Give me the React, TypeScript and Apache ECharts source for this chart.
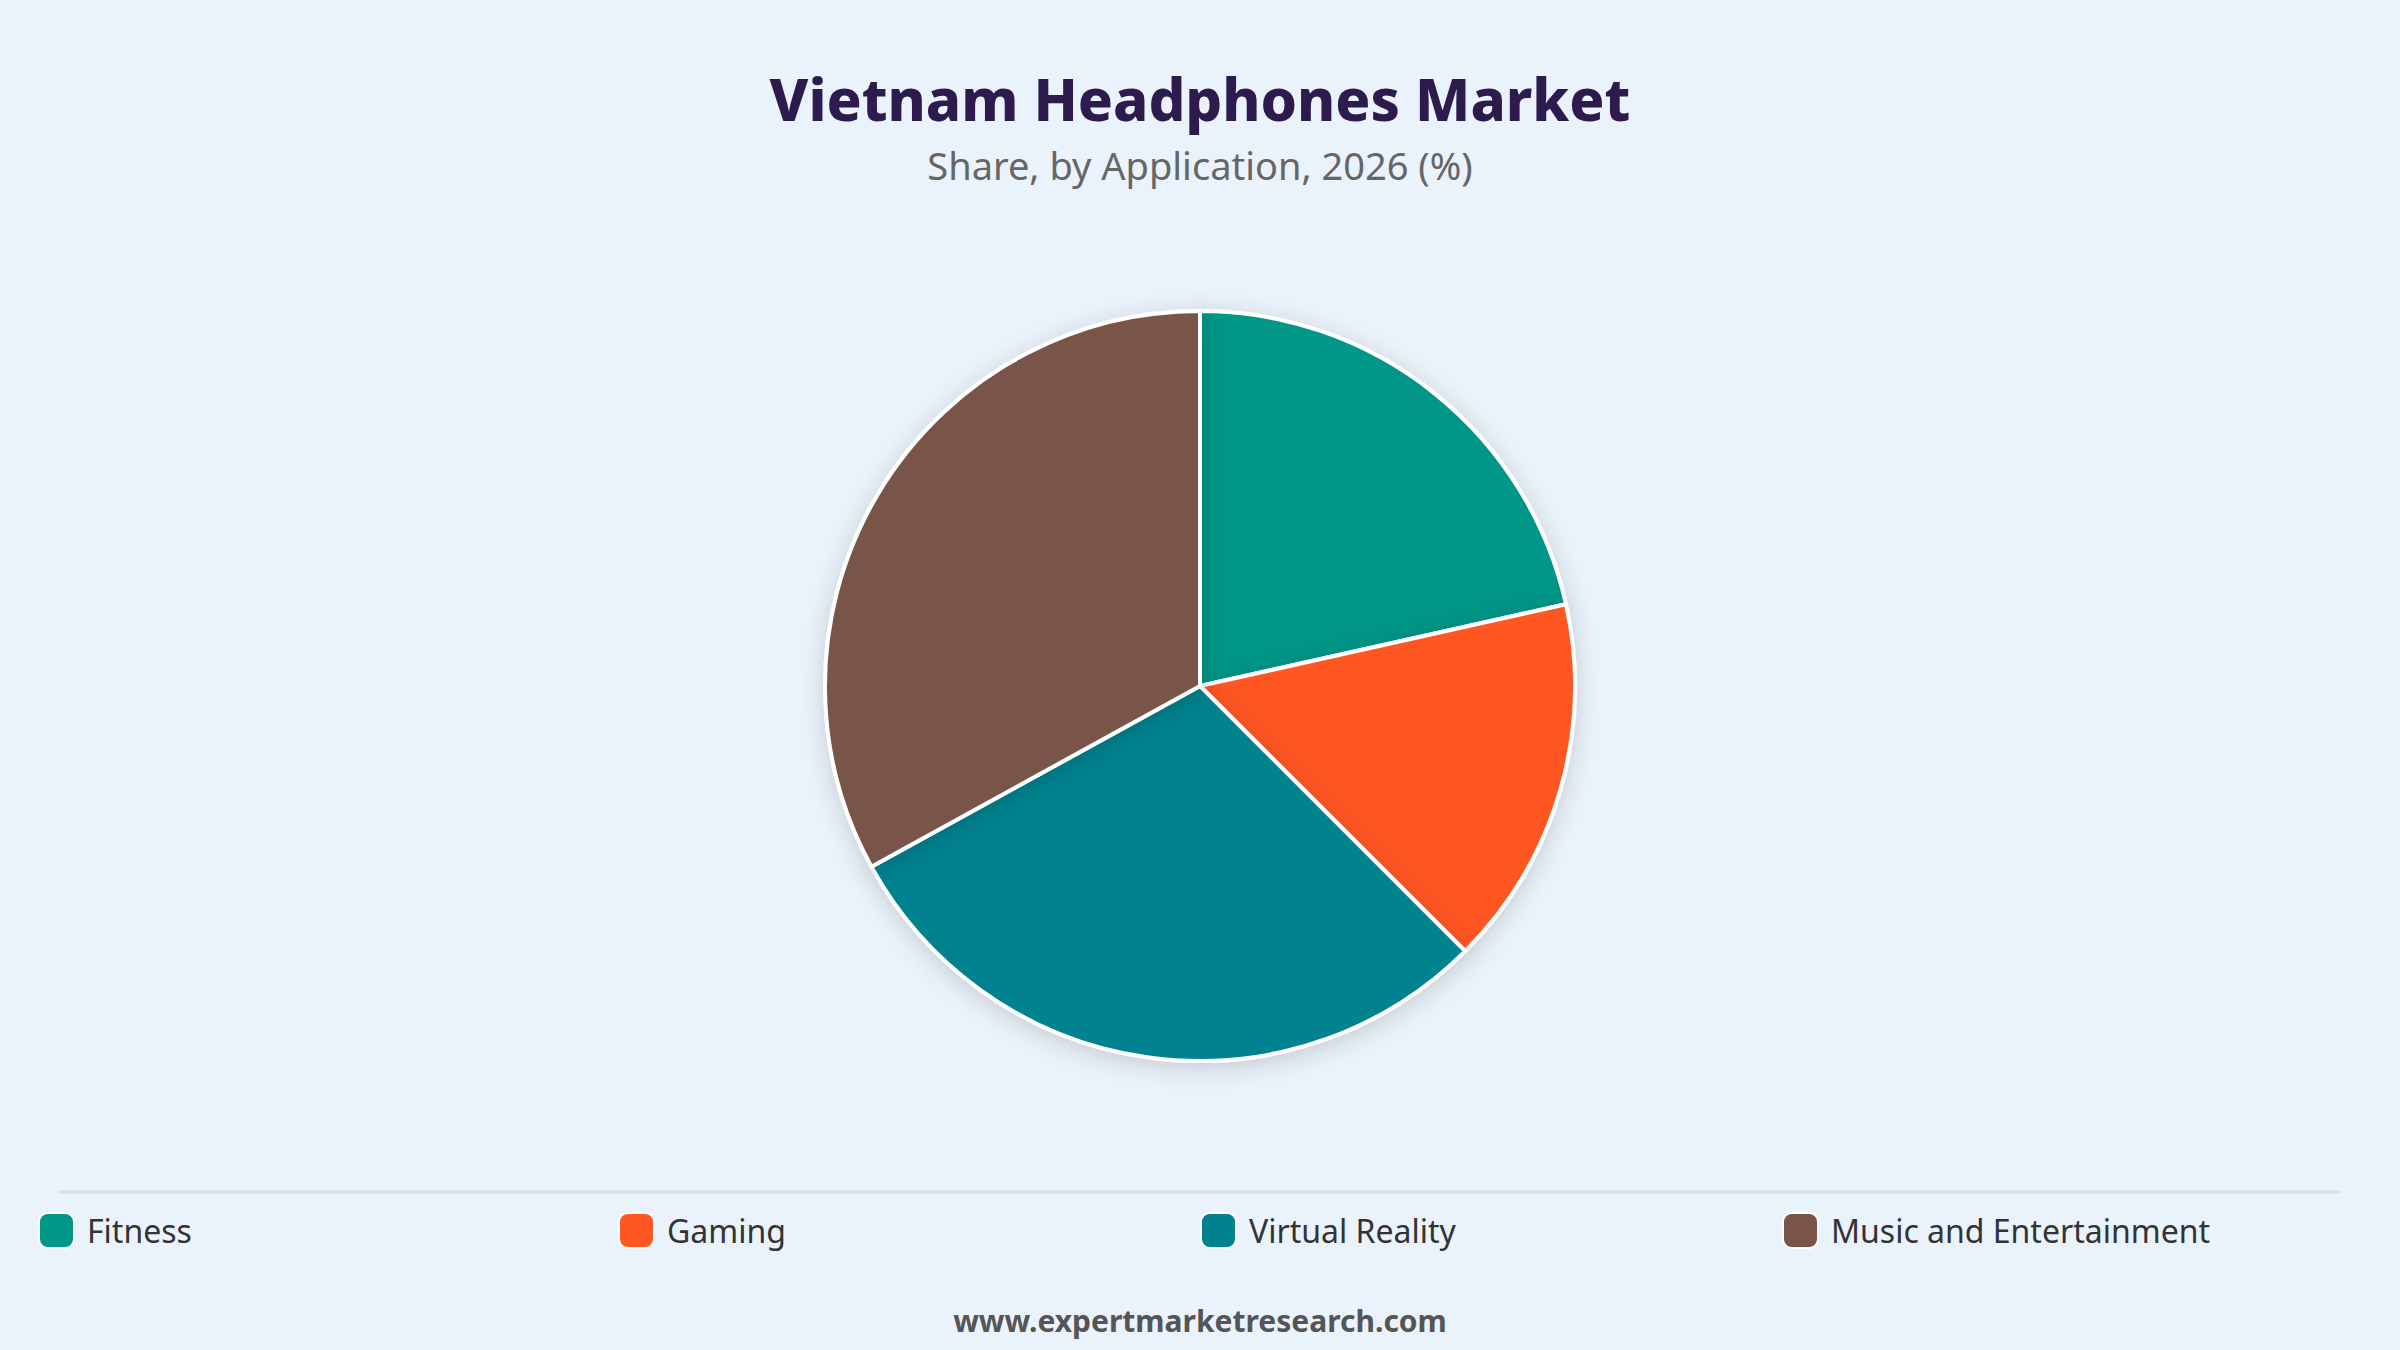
import { useEffect, useRef } from 'react'
import * as echarts from 'echarts'

const CATEGORIES = ['Fitness', 'Gaming', 'Virtual Reality', 'Music and Entertainment']
const SHARES = [21.5, 16, 29.5, 33]
const COLORS = ['#009688', '#ff5722', '#00838f', '#795548']
const LEGEND_LEFT = [33, 613, 1195, 1777]

const FONT = '"Noto Sans", "Open Sans", sans-serif'

export default function App() {
  const elRef = useRef<HTMLDivElement>(null)

  useEffect(() => {
    if (!elRef.current) return
    document.body.style.margin = '0'
    const chart = echarts.init(elRef.current, null, { renderer: 'svg' })

    // one legend per item so the four entries sit in equal columns
    const legends = CATEGORIES.map((name, i) => ({
      data: [name],
      left: LEGEND_LEFT[i],
      top: 1207,
      icon: 'roundRect',
      itemWidth: 35,
      itemHeight: 35,
      itemGap: 0,
      selectedMode: false,
      textStyle: { color: '#333', fontSize: 32, fontFamily: FONT, padding: [0, 0, 0, 8] },
    }))

    chart.setOption({
      animation: false,
      backgroundColor: '#eaf2fb',
      title: [
        {
          text: 'Vietnam Headphones Market',
          left: 'center',
          top: 64,
          textStyle: { color: '#2d1b4e', fontSize: 58, fontWeight: 800, fontFamily: FONT },
        },
        {
          text: 'Share, by Application, 2026 (%)',
          left: 'center',
          top: 141,
          textStyle: { color: '#666', fontSize: 38, fontWeight: 'normal', fontFamily: FONT },
        },
        {
          text: 'www.expertmarketresearch.com',
          left: 'center',
          top: 1300,
          textStyle: { color: '#555', fontSize: 30, fontWeight: 'bold', fontFamily: FONT },
        },
      ],
      legend: legends,
      graphic: [
        {
          type: 'line',
          shape: { x1: 60, y1: 1192, x2: 2339, y2: 1192 },
          style: { stroke: '#dcdcdc', lineWidth: 3 },
        },
      ],
      color: COLORS,
      series: [
        {
          type: 'pie',
          center: [1200, 686],
          radius: 375,
          startAngle: 90,
          clockwise: true,
          label: { show: false },
          labelLine: { show: false },
          emphasis: { disabled: true },
          itemStyle: {
            borderColor: '#fff',
            borderWidth: 4,
            shadowBlur: 24,
            shadowColor: 'rgba(0,0,0,0.16)',
            shadowOffsetY: 5,
          },
          data: CATEGORIES.map((name, i) => ({ name, value: SHARES[i] })),
        },
      ],
    })

    return () => chart.dispose()
  }, [])

  return <div ref={elRef} style={{ position: 'fixed', left: 0, top: 0, width: 2400, height: 1350 }} />
}
